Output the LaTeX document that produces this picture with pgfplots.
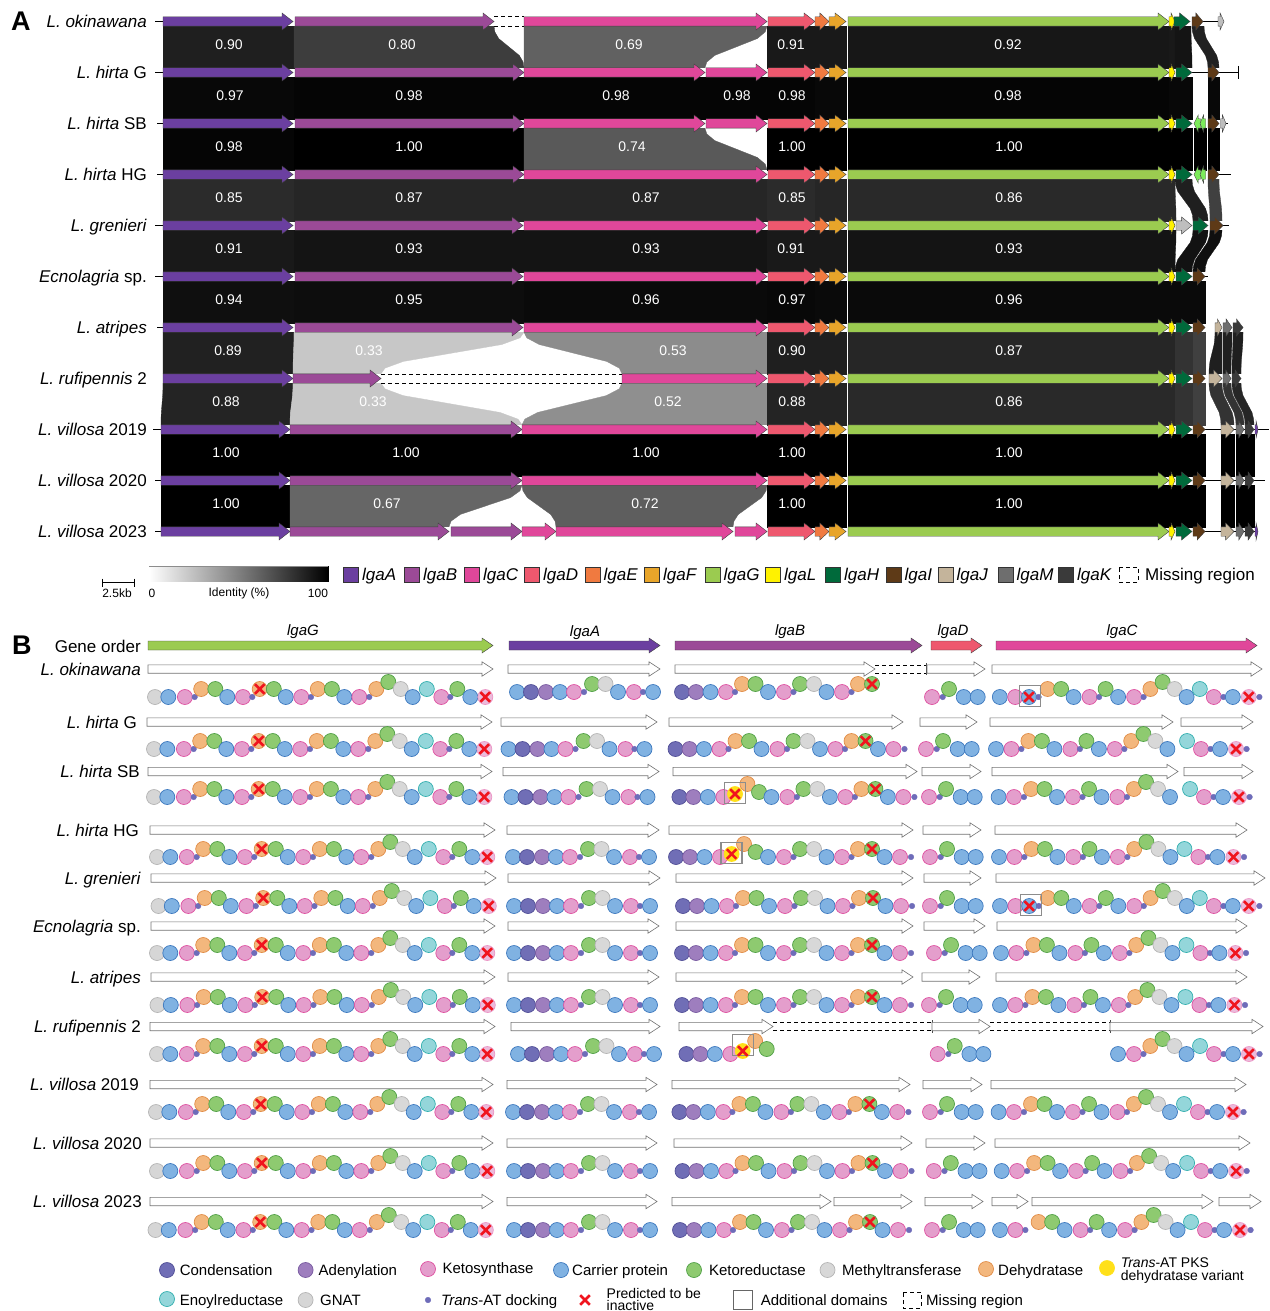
\documentclass[border=0pt]{standalone}
\usepackage{pgfplots}
\pgfplotsset{compat=1.18}
\usepackage{pgfplotstable}
\usepackage{fontspec}
\setmainfont{Liberation Sans}

% gene colours
\definecolor{cA}{RGB}{107,63,160}
\definecolor{cB}{RGB}{155,74,151}
\definecolor{cC}{RGB}{224,71,154}
\definecolor{cD}{RGB}{238,88,110}
\definecolor{cE}{RGB}{240,122,64}
\definecolor{cF}{RGB}{232,165,42}
\definecolor{cG}{RGB}{155,203,80}
\definecolor{cL}{RGB}{255,242,0}
\definecolor{cH}{RGB}{0,106,59}
\definecolor{cI}{RGB}{94,58,23}
\definecolor{cJ}{RGB}{196,180,155}
\definecolor{cM}{RGB}{110,110,110}
\definecolor{cK}{RGB}{58,58,58}
\definecolor{cLG}{RGB}{124,235,90}
\definecolor{cGR}{RGB}{190,190,190}
% domain colours
\definecolor{dCn}{RGB}{112,110,182}\definecolor{dCnb}{RGB}{80,78,150}
\definecolor{dAd}{RGB}{158,126,190}\definecolor{dAdb}{RGB}{120,90,160}
\definecolor{dKS}{RGB}{228,158,204}\definecolor{dKSb}{RGB}{222,80,160}
\definecolor{dCP}{RGB}{128,178,226}\definecolor{dCPb}{RGB}{60,120,190}
\definecolor{dKR}{RGB}{142,202,112}\definecolor{dKRb}{RGB}{80,160,70}
\definecolor{dMT}{RGB}{216,216,216}\definecolor{dMTb}{RGB}{180,180,180}
\definecolor{dDH}{RGB}{243,183,125}\definecolor{dDHb}{RGB}{225,140,70}
\definecolor{dYD}{RGB}{255,224,25}
\definecolor{dER}{RGB}{148,214,218}\definecolor{dERb}{RGB}{50,175,175}
\definecolor{dGN}{RGB}{214,214,214}
\definecolor{dDt}{RGB}{110,108,185}
\definecolor{xred}{RGB}{240,20,30}

\pgfplotsset{
  gn/.style={draw=black!75,line width=0.4pt},
  gA/.style={gn,fill=cA}, gB/.style={gn,fill=cB}, gC/.style={gn,fill=cC},
  gD/.style={gn,fill=cD}, gE/.style={gn,fill=cE}, gF/.style={gn,fill=cF},
  gG/.style={gn,fill=cG}, gL/.style={gn,fill=cL}, gH/.style={gn,fill=cH},
  gI/.style={gn,fill=cI}, gJ/.style={gn,fill=cJ}, gM/.style={gn,fill=cM},
  gK/.style={gn,fill=cK}, gLG/.style={gn,fill=cLG}, gGR/.style={gn,fill=cGR},
  wt/.style={fill=white,draw=black!55,line width=0.6pt},
  dom/.style={scatter,only marks,scatter src=explicit symbolic,
    scatter/classes={
      Cn={mark=*,mark size=7.5,line width=0.7pt,draw=dCnb,fill=dCn},
      Ad={mark=*,mark size=7.5,line width=0.7pt,draw=dAdb,fill=dAd},
      KS={mark=*,mark size=7.5,line width=0.7pt,draw=dKSb,fill=dKS},
      KSi={mark=*,mark size=7.5,line width=0.7pt,draw=dKSb!60,fill=dKS!70},
      CP={mark=*,mark size=7.5,line width=0.7pt,draw=dCPb,fill=dCP},
      KR={mark=*,mark size=7.5,line width=0.7pt,draw=dKRb,fill=dKR},
      MT={mark=*,mark size=7.5,line width=0.7pt,draw=dMTb,fill=dMT},
      DH={mark=*,mark size=7.5,line width=0.7pt,draw=dDHb,fill=dDH},
      YD={mark=*,mark size=7.5,line width=0.7pt,draw=dYD,fill=dYD},
      ER={mark=*,mark size=7.5,line width=0.7pt,draw=dERb,fill=dER},
      GN={mark=*,mark size=7.5,line width=0.7pt,draw=dMTb,fill=dGN},
      dt={mark=*,mark size=2.8,draw=dDt,fill=dDt}}},
}
\tikzset{
  sp/.style={anchor=base east,inner sep=0,font=\fontsize{17}{20}\selectfont},
  num/.style={inner sep=0,text=white,font=\fontsize{14}{16}\selectfont},
  lg/.style={anchor=base west,inner sep=0,font=\fontsize{17}{20}\selectfont},
  lb/.style={anchor=base west,inner sep=0,font=\fontsize{15}{17}\selectfont},
  lc/.style={anchor=base west,inner sep=0,font=\fontsize{14}{15}\selectfont},
  sm/.style={inner sep=0,font=\fontsize{12}{14}\selectfont},
  hd/.style={inner sep=0,font=\fontsize{15}{17}\selectfont\itshape},
}

% arrow: style, y, x start, x end
\newcommand\arr[4]{%
  \pgfmathsetmacro\aL{#4-#3}%
  \pgfmathsetmacro\ahl{\aL>0 ? min(11,0.65*\aL) : max(-11,0.65*\aL)}%
  \pgfmathsetmacro\axh{#4-\ahl}%
  \pgfmathsetmacro\aya{#2-\bh}\pgfmathsetmacro\ayb{#2+\bh}%
  \pgfmathsetmacro\ayc{#2-\hh}\pgfmathsetmacro\ayd{#2+\hh}%
  \edef\mytmp{\noexpand\addplot[#1] coordinates {(#3,\aya)(\axh,\aya)(\axh,\ayc)(#4,#2)(\axh,\ayd)(\axh,\ayb)(#3,\ayb)} -- cycle;}%
  \mytmp}
% link between row i and i+1: i, xa top, xb top, xa bottom, xb bottom, percent black
\newcommand\band[6]{%
  \pgfmathsetmacro\byt{26.2+51*#1}%
  \gdef\bpts{}%
  \foreach \f/\g in {0/0,0.028/0.136,0.156/0.297,0.5/0.5,0.844/0.703,0.972/0.864,1/1}{%
    \pgfmathsetmacro\px{#3+\f*(#5-#3)}\pgfmathsetmacro\py{\byt+\g*41.6}%
    \xdef\bpts{\bpts(\px,\py)}}%
  \foreach \f/\g in {1/1,0.972/0.864,0.844/0.703,0.5/0.5,0.156/0.297,0.028/0.136,0/0}{%
    \pgfmathsetmacro\px{#2+\f*(#4-#2)}\pgfmathsetmacro\py{\byt+\g*41.6}%
    \xdef\bpts{\bpts(\px,\py)}}%
  \edef\mytmp{\noexpand\addplot[fill=black!#6,draw=black!#6,line width=0.3pt] coordinates {\bpts} -- cycle;}%
  \mytmp}
\newcommand\core[1]{\arr{gD}{#1}{768}{815}\arr{gE}{#1}{815}{829}\arr{gF}{#1}{829}{846}\arr{gG}{#1}{848}{1169}\arr{gL}{#1}{1169}{1175}}
\newcommand\dom[4][]{\addplot[dom,#1] table[x expr=\thisrow{x}+#3,y expr=\thisrow{y}+#4,meta=c]{#2};}
\newcommand\lsq[4]{\addplot[only marks,mark=square*,mark size=7.5,mark options={fill=#1,draw=black!80,line width=0.6pt}] coordinates {(#2,574.5)};
  \node[lg] at (#3,580.5) {\textit{#4}};}

% domain layouts (x offset, y offset, domain)
\pgfplotstableread{
x y c
0 0 GN
13.3 0 CP
29.9 0 KS
39.7 0 dt
46.2 -8 DH
60.3 -8 KR
72.3 0 CP
88 0 KS
97.3 0 dt
104.7 -8 DH
118.8 -8 KR
130.8 0 CP
146.3 0 KS
156 0 dt
162.8 -8 DH
176.9 -8 KR
189.3 0 CP
204.3 0 KS
214.3 0 dt
221.3 -8 DH
233.3 -15 KR
245.7 -8 MT
257.7 0 CP
271.8 -8 ER
286.3 0 KS
295.3 0 dt
302.3 -8 KR
315.3 0 CP
330.3 0 KSi
}\TG
\pgfplotstableread{
x y c
0 0 CP
14 0 Cn
29 0 Ad
43 0 CP
57 0 KS
67 0 dt
75 -8 KR
88.5 -8 MT
101 0 CP
117 0 KS
126 0 dt
136 0 CP
}\TA
\pgfplotstableread{
x y c
0 0 Cn
14 0 Ad
28.5 0 CP
44 0 KS
53 0 dt
60 -8 DH
73.5 -8 KR
86 0 CP
102 0 KS
111.5 0 dt
118 -8 KR
132 -8 MT
144.5 0 CP
160 0 KS
169.5 0 dt
176 -8 DH
190 -8 KR
202.5 0 CP
218 0 KS
229 0 dt
}\TB
\pgfplotstableread{
x y c
0 -3 YD
12.4 -13 DH
24 -5 KR
}\TY
\pgfplotstableread{
x y c
0 0 KS
10.7 0 dt
17 -8 KR
31.7 0 CP
45.7 0 CP
}\TD
\pgfplotstableread{
x y c
0 0 CP
15.4 0 KS
25.4 0 dt
}\TCa
\pgfplotstableread{
x y c
0 -8 DH
13.5 -8 KR
26 0 CP
42 0 KS
51.5 0 dt
58 -8 KR
70.5 0 CP
86.5 0 KS
96 0 dt
102.8 -8 DH
115 -15 KR
127 -8 MT
139 0 CP
}\TCb
\pgfplotstableread{
x y c
0 -8 ER
14 0 KS
23.6 0 dt
33 0 CP
49 0 KSi
59.6 0 dt
}\TCc
\pgfplotstableread{
x y c
0 0 CP
9.6 0 dt
}\TX

\begin{document}
\begin{tikzpicture}
\begin{axis}[name=ax,width=1269pt,height=1311pt,scale only axis,
  xmin=0,xmax=1269,ymin=0,ymax=1311,y dir=reverse,hide axis,clip=false,
  unbounded coords=jump,
  colormap={bw}{gray(0cm)=(1); gray(1cm)=(0)},point meta min=149,point meta max=328]

%%%%%%%%%%%%%%%% panel A: links
\band{0}{163}{294}{163}{294}{88}
\band{0}{294}{494}{294}{524}{76}
\band{0}{524}{767}{524}{705}{62}
\band{0}{767}{815}{767}{815}{90}
\band{0}{815}{829}{815}{829}{90}
\band{0}{829}{846}{829}{846}{90}
\band{0}{848}{1169}{848}{1169}{91}
\band{0}{1169}{1175}{1169}{1175}{90}
\band{0}{1175}{1191}{1175}{1192}{92}
\band{0}{1192}{1204}{1208}{1219}{87}
\band{1}{163}{294}{163}{294}{97}
\band{1}{294}{524}{294}{524}{98}
\band{1}{524}{705}{524}{705}{98}
\band{1}{705}{767}{705}{767}{98}
\band{1}{767}{815}{767}{815}{98}
\band{1}{815}{829}{815}{829}{97}
\band{1}{829}{846}{829}{846}{97}
\band{1}{848}{1169}{848}{1169}{98}
\band{1}{1169}{1175}{1169}{1175}{97}
\band{1}{1175}{1192}{1175}{1192}{97}
\band{1}{1208}{1219}{1208}{1219}{97}
\band{2}{163}{294}{163}{294}{98}
\band{2}{294}{524}{294}{524}{100}
\band{2}{524}{705}{524}{767}{65}
\band{2}{767}{815}{767}{815}{100}
\band{2}{815}{829}{815}{829}{100}
\band{2}{829}{846}{829}{846}{100}
\band{2}{848}{1169}{848}{1169}{100}
\band{2}{1169}{1175}{1169}{1175}{100}
\band{2}{1175}{1192}{1175}{1192}{100}
\band{2}{1194}{1206}{1194}{1206}{100}
\band{2}{1208}{1219}{1208}{1219}{100}
\band{3}{163}{294}{163}{294}{83}
\band{3}{294}{524}{294}{524}{85}
\band{3}{524}{767}{524}{767}{85}
\band{3}{767}{815}{767}{815}{83}
\band{3}{815}{829}{815}{829}{85}
\band{3}{829}{846}{829}{846}{85}
\band{3}{848}{1169}{848}{1169}{84}
\band{3}{1169}{1175}{1169}{1176}{84}
\band{3}{1175}{1192}{1193}{1208}{88}
\band{3}{1208}{1219}{1210}{1222}{75}
\band{4}{163}{294}{163}{294}{90}
\band{4}{294}{524}{294}{524}{92}
\band{4}{524}{767}{524}{767}{92}
\band{4}{767}{815}{767}{815}{90}
\band{4}{815}{829}{815}{829}{90}
\band{4}{829}{846}{829}{846}{90}
\band{4}{848}{1169}{848}{1169}{92}
\band{4}{1169}{1176}{1169}{1175}{92}
\band{4}{1193}{1208}{1175}{1192}{93}
\band{4}{1210}{1222}{1193}{1205}{94}
\band{5}{163}{294}{163}{294}{94}
\band{5}{294}{524}{294}{524}{95}
\band{5}{524}{767}{524}{767}{96}
\band{5}{767}{815}{767}{815}{97}
\band{5}{815}{829}{815}{829}{96}
\band{5}{829}{846}{829}{846}{96}
\band{5}{848}{1169}{848}{1169}{96}
\band{5}{1169}{1175}{1169}{1175}{96}
\band{5}{1175}{1192}{1175}{1192}{96}
\band{5}{1193}{1205}{1193}{1205}{96}
\band{6}{163}{294}{163}{293}{87}
\band{6}{294}{524}{293}{381}{22}
\band{6}{524}{767}{622}{767}{45}
\band{6}{767}{815}{767}{815}{88}
\band{6}{815}{829}{815}{829}{88}
\band{6}{829}{846}{829}{846}{88}
\band{6}{848}{1169}{848}{1169}{85}
\band{6}{1169}{1175}{1169}{1175}{85}
\band{6}{1175}{1192}{1175}{1192}{80}
\band{6}{1193}{1205}{1193}{1205}{75}
\band{6}{1215}{1222}{1209}{1222}{88}
\band{6}{1223}{1232}{1223}{1231}{88}
\band{6}{1233}{1243}{1232}{1241}{88}
\band{7}{163}{293}{161}{290}{86}
\band{7}{293}{381}{290}{522}{22}
\band{7}{622}{767}{522}{767}{44}
\band{7}{767}{815}{767}{815}{86}
\band{7}{815}{829}{815}{829}{86}
\band{7}{829}{846}{829}{846}{86}
\band{7}{848}{1169}{848}{1169}{84}
\band{7}{1169}{1175}{1169}{1175}{84}
\band{7}{1175}{1192}{1175}{1192}{80}
\band{7}{1193}{1205}{1193}{1205}{75}
\band{7}{1209}{1222}{1221}{1234}{80}
\band{7}{1223}{1231}{1236}{1244}{80}
\band{7}{1232}{1241}{1245}{1254}{85}
\band{8}{161}{290}{161}{290}{100}
\band{8}{290}{522}{290}{522}{100}
\band{8}{522}{767}{522}{767}{100}
\band{8}{767}{815}{767}{815}{100}
\band{8}{815}{829}{815}{829}{100}
\band{8}{829}{846}{829}{846}{100}
\band{8}{848}{1169}{848}{1169}{100}
\band{8}{1169}{1175}{1169}{1175}{100}
\band{8}{1175}{1192}{1175}{1192}{100}
\band{8}{1193}{1205}{1193}{1205}{100}
\band{8}{1221}{1234}{1221}{1234}{100}
\band{8}{1236}{1244}{1236}{1244}{100}
\band{8}{1245}{1254}{1245}{1254}{100}
\band{9}{161}{290}{161}{290}{100}
\band{9}{290}{522}{290}{449}{60}
\band{9}{522}{767}{556}{733}{63}
\band{9}{767}{815}{767}{815}{100}
\band{9}{815}{829}{815}{829}{100}
\band{9}{829}{846}{829}{846}{100}
\band{9}{848}{1169}{848}{1169}{100}
\band{9}{1169}{1175}{1169}{1175}{100}
\band{9}{1175}{1192}{1175}{1192}{100}
\band{9}{1193}{1205}{1193}{1205}{100}
\band{9}{1221}{1234}{1221}{1234}{100}
\band{9}{1236}{1244}{1236}{1244}{100}
\band{9}{1245}{1254}{1245}{1254}{100}

% thin lines: row ticks and right-hand backbone
\addplot[black,line width=0.6pt] coordinates {
(155,21.5)(163,21.5) (nan,nan) (155,72.5)(163,72.5) (nan,nan) (157,123.5)(163,123.5) (nan,nan)
(157,174.5)(163,174.5) (nan,nan) (155,225.5)(163,225.5) (nan,nan) (155,276.5)(163,276.5) (nan,nan)
(157,327.5)(163,327.5) (nan,nan) (153,429.5)(161,429.5) (nan,nan) (155,480.5)(161,480.5) (nan,nan)
(155,531.5)(161,531.5) (nan,nan)
(1203,21.5)(1219,21.5) (nan,nan) (1192,72.5)(1238,72.5) (nan,nan) (1238,66)(1238,79) (nan,nan)
(1226,123.5)(1228,123.5) (nan,nan)
(1219,174.5)(1231,174.5) (nan,nan) (1222,225.5)(1229,225.5) (nan,nan) (1205,276.5)(1208,276.5) (nan,nan)
(1205,429.5)(1269,429.5) (nan,nan) (1205,480.5)(1265,480.5) (nan,nan) (1205,531.5)(1256,531.5)};
% missing regions (dashed)
\addplot[black,line width=0.6pt,dash pattern=on 4pt off 3pt] coordinates {
(494,16.8)(524,16.8) (nan,nan) (494,26.2)(524,26.2) (nan,nan)
(381,373.8)(622,373.8) (nan,nan) (381,383.2)(622,383.2) (nan,nan)
(1119,567)(1138,567)(1138,582)(1119,582)(1119,567) (nan,nan)
(875,664.8)(926,664.8) (nan,nan) (875,673.2)(926,673.2) (nan,nan)
(773,1022.3)(932,1022.3) (nan,nan) (773,1030.7)(932,1030.7) (nan,nan)
(990,1022.3)(1110,1022.3) (nan,nan) (990,1030.7)(1110,1030.7) (nan,nan)
(903,1292)(921,1292)(921,1308)(903,1308)(903,1292)};
\addplot[black!70,line width=0.6pt] coordinates {(926,663)(926,675) (nan,nan) (932,1020)(932,1033) (nan,nan) (1110,1020)(1110,1033)};

%%%%%%%%%%%%%%%% panel A: genes
\def\bh{4.7}\def\hh{8.5}
\arr{gA}{21.5}{163}{293}\arr{gB}{21.5}{295}{494}\arr{gC}{21.5}{524}{767}\core{21.5}
\arr{gH}{21.5}{1174}{1190}\arr{gI}{21.5}{1192}{1203}\arr{gGR}{21.5}{1218}{1224}
\arr{gA}{72.5}{163}{293}\arr{gB}{72.5}{295}{524}\arr{gC}{72.5}{524}{705}\arr{gC}{72.5}{706}{767}\core{72.5}
\arr{gH}{72.5}{1176}{1192}\arr{gI}{72.5}{1208}{1219}
\arr{gA}{123.5}{163}{293}\arr{gB}{123.5}{295}{524}\arr{gC}{123.5}{524}{705}\arr{gC}{123.5}{706}{767}\core{123.5}
\arr{gH}{123.5}{1176}{1192}\arr{gLG}{123.5}{1200.5}{1194}\arr{gLG}{123.5}{1205.5}{1200}\arr{gI}{123.5}{1208}{1219}\arr{gGR}{123.5}{1220.5}{1226}
\arr{gA}{174.5}{163}{293}\arr{gB}{174.5}{295}{524}\arr{gC}{174.5}{524}{767}\core{174.5}
\arr{gH}{174.5}{1176}{1192}\arr{gLG}{174.5}{1200.5}{1194}\arr{gLG}{174.5}{1205.5}{1200}\arr{gI}{174.5}{1208}{1219}
\arr{gA}{225.5}{163}{293}\arr{gB}{225.5}{295}{523}\arr{gC}{225.5}{524}{767}\core{225.5}
\arr{gGR}{225.5}{1176}{1192}\arr{gH}{225.5}{1193}{1208}\arr{gI}{225.5}{1210}{1223}
\arr{gA}{276.5}{163}{293}\arr{gB}{276.5}{295}{523}\arr{gC}{276.5}{524}{767}\core{276.5}
\arr{gH}{276.5}{1176}{1192}\arr{gI}{276.5}{1193}{1205}
\arr{gA}{327.5}{163}{293}\arr{gB}{327.5}{295}{523}\arr{gC}{327.5}{524}{767}\core{327.5}
\arr{gH}{327.5}{1176}{1192}\arr{gI}{327.5}{1193}{1205}\arr{gJ}{327.5}{1215}{1222}\arr{gM}{327.5}{1223}{1232}\arr{gK}{327.5}{1233}{1243}
\arr{gA}{378.5}{163}{293}\arr{gB}{378.5}{293}{381}\arr{gC}{378.5}{622}{767}\core{378.5}
\arr{gH}{378.5}{1176}{1192}\arr{gI}{378.5}{1193}{1205}\arr{gJ}{378.5}{1209}{1222}\arr{gM}{378.5}{1223}{1231}\arr{gK}{378.5}{1232}{1241}
\arr{gA}{429.5}{161}{290}\arr{gB}{429.5}{290}{522}\arr{gC}{429.5}{522}{767}\core{429.5}
\arr{gH}{429.5}{1176}{1192}\arr{gI}{429.5}{1193}{1205}\arr{gJ}{429.5}{1221}{1234}\arr{gM}{429.5}{1236}{1244}\arr{gK}{429.5}{1245}{1254}\arr{gA}{429.5}{1255}{1258}
\arr{gA}{480.5}{161}{290}\arr{gB}{480.5}{290}{522}\arr{gC}{480.5}{522}{767}\core{480.5}
\arr{gH}{480.5}{1176}{1192}\arr{gI}{480.5}{1193}{1205}\arr{gJ}{480.5}{1221}{1234}\arr{gM}{480.5}{1236}{1244}\arr{gK}{480.5}{1245}{1254}
\arr{gA}{531.5}{161}{290}\arr{gB}{531.5}{290}{449}\arr{gB}{531.5}{451}{522}\arr{gC}{531.5}{522}{556}\arr{gC}{531.5}{556}{733}\arr{gC}{531.5}{735}{767}\core{531.5}
\arr{gH}{531.5}{1176}{1192}\arr{gI}{531.5}{1193}{1205}\arr{gJ}{531.5}{1221}{1234}\arr{gM}{531.5}{1236}{1244}\arr{gK}{531.5}{1245}{1254}\arr{gA}{531.5}{1255}{1258}

% identity values
\node[num] at (229,44.3) {0.90}; \node[num] at (402,44.3) {0.80}; \node[num] at (629,44.3) {0.69}; \node[num] at (791,44.3) {0.91}; \node[num] at (1008,44.3) {0.92};
\node[num] at (230,95.3) {0.97}; \node[num] at (409,95.3) {0.98}; \node[num] at (616,95.3) {0.98}; \node[num] at (737,95.3) {0.98}; \node[num] at (792,95.3) {0.98}; \node[num] at (1008,95.3) {0.98};
\node[num] at (229,146.3) {0.98}; \node[num] at (409,146.3) {1.00}; \node[num] at (632,146.3) {0.74}; \node[num] at (792,146.3) {1.00}; \node[num] at (1009,146.3) {1.00};
\node[num] at (229,197.3) {0.85}; \node[num] at (409,197.3) {0.87}; \node[num] at (646,197.3) {0.87}; \node[num] at (792,197.3) {0.85}; \node[num] at (1009,197.3) {0.86};
\node[num] at (229,248.3) {0.91}; \node[num] at (409,248.3) {0.93}; \node[num] at (646,248.3) {0.93}; \node[num] at (791,248.3) {0.91}; \node[num] at (1009,248.3) {0.93};
\node[num] at (229,299.3) {0.94}; \node[num] at (409,299.3) {0.95}; \node[num] at (646,299.3) {0.96}; \node[num] at (792,299.3) {0.97}; \node[num] at (1009,299.3) {0.96};
\node[num] at (228,350.3) {0.89}; \node[num] at (369,350.3) {0.33}; \node[num] at (673,350.3) {0.53}; \node[num] at (792,350.3) {0.90}; \node[num] at (1009,350.3) {0.87};
\node[num] at (226,401.3) {0.88}; \node[num] at (373,401.3) {0.33}; \node[num] at (668,401.3) {0.52}; \node[num] at (792,401.3) {0.88}; \node[num] at (1009,401.3) {0.86};
\node[num] at (226,452.3) {1.00}; \node[num] at (406,452.3) {1.00}; \node[num] at (646,452.3) {1.00}; \node[num] at (792,452.3) {1.00}; \node[num] at (1009,452.3) {1.00};
\node[num] at (226,503.3) {1.00}; \node[num] at (387,503.3) {0.67}; \node[num] at (645,503.3) {0.72}; \node[num] at (792,503.3) {1.00}; \node[num] at (1009,503.3) {1.00};

% species (panel A)
\node[anchor=base west,inner sep=0,font=\fontsize{27}{30}\selectfont\bfseries] at (11,30.7) {A};
\node[sp] at (147,27.6) {\textit{L. okinawana}};
\node[sp] at (147,78.6) {\textit{L. hirta} G};
\node[sp] at (147,129.6) {\textit{L. hirta} SB};
\node[sp] at (147,180.6) {\textit{L. hirta} HG};
\node[sp] at (147,231.6) {\textit{L. grenieri}};
\node[sp] at (147,282.6) {\textit{Ecnolagria} sp.};
\node[sp] at (147,333.6) {\textit{L. atripes}};
\node[sp] at (147,384.6) {\textit{L. rufipennis} 2};
\node[sp] at (147,435.6) {\textit{L. villosa} 2019};
\node[sp] at (147,486.6) {\textit{L. villosa} 2020};
\node[sp] at (147,537.6) {\textit{L. villosa} 2023};

% scale bar and identity scale
\addplot[black,line width=0.8pt] coordinates {(102,582.5)(134,582.5) (nan,nan) (102,578.5)(102,586.5) (nan,nan) (134,578.5)(134,586.5)};
\node[sm] at (117,593) {2.5kb};
\addplot[surf,shader=interp,mesh/rows=2,point meta=x] coordinates {(149,566)(328,566) (149,581.5)(328,581.5)};
\addplot[black!45,line width=0.6pt] coordinates {(149,566)(328,566)};
\node[sm] at (152,593) {0};
\node[sm] at (239,593) {Identity (\%)};
\node[sm] at (318,593) {100};
% gene legend
\lsq{cA}{351}{362}{lgaA}\lsq{cB}{412}{423}{lgaB}\lsq{cC}{472}{483}{lgaC}\lsq{cD}{532}{543}{lgaD}
\lsq{cE}{592.5}{603.5}{lgaE}\lsq{cF}{652}{663}{lgaF}\lsq{cG}{712.5}{723.5}{lgaG}\lsq{cL}{773}{784}{lgaL}
\lsq{cH}{833}{844}{lgaH}\lsq{cI}{893.5}{904.5}{lgaI}\lsq{cJ}{945.5}{956.5}{lgaJ}\lsq{cM}{1005.5}{1016.5}{lgaM}
\lsq{cK}{1066}{1077}{lgaK}
\node[lg] at (1145,580.5) {Missing region};

%%%%%%%%%%%%%%%% panel B
\node[anchor=base west,inner sep=0,font=\fontsize{27}{30}\selectfont\bfseries] at (12,654.5) {B};
\node[sp] at (141,652) {Gene order};
\def\bh{4.5}\def\hh{7.5}
\arr{gG}{645.5}{148}{493}\arr{gA}{645.5}{509}{660}\arr{gB}{645.5}{675}{922}\arr{gD}{645.5}{931}{982}\arr{gC}{645.5}{996}{1257}
\node[hd] at (303,632) {lgaG}; \node[hd] at (585,633) {lgaA}; \node[hd] at (790,632) {lgaB};
\node[hd] at (953,632) {lgaD}; \node[hd] at (1122,632) {lgaC};

\def\bh{4.2}\def\hh{7.2}
\arr{wt}{669}{148}{493}\arr{wt}{669}{508}{660}\arr{wt}{669}{675}{875}\arr{wt}{669}{927}{985}\arr{wt}{669}{992}{1262}
\arr{wt}{722}{147}{492}\arr{wt}{722}{501}{657}\arr{wt}{722}{669}{903}\arr{wt}{722}{920}{977}\arr{wt}{722}{990}{1173}\arr{wt}{722}{1181}{1253}
\arr{wt}{771.5}{148}{492}\arr{wt}{771.5}{503}{659}\arr{wt}{771.5}{673}{917}\arr{wt}{771.5}{922}{981}\arr{wt}{771.5}{992}{1178}\arr{wt}{771.5}{1184}{1253}
\arr{wt}{830}{150}{495}\arr{wt}{830}{507}{659}\arr{wt}{830}{669}{913}\arr{wt}{830}{923}{981}\arr{wt}{830}{995}{1247}
\arr{wt}{878}{151}{496}\arr{wt}{878}{508}{660}\arr{wt}{878}{676}{913}\arr{wt}{878}{924}{981}\arr{wt}{878}{996}{1265}
\arr{wt}{926}{151}{495}\arr{wt}{926}{508}{659}\arr{wt}{926}{676}{913}\arr{wt}{926}{924}{985}\arr{wt}{926}{997}{1247}
\arr{wt}{977}{151}{495}\arr{wt}{977}{508}{659}\arr{wt}{977}{676}{913}\arr{wt}{977}{922}{980}\arr{wt}{977}{996}{1247}
\arr{wt}{1026.5}{150}{495}\arr{wt}{1026.5}{511}{660}\arr{wt}{1026.5}{679}{773}\arr{wt}{1026.5}{932}{990}\arr{wt}{1026.5}{1110}{1263}
\arr{wt}{1084.5}{150}{493}\arr{wt}{1084.5}{507}{657}\arr{wt}{1084.5}{672}{910}\arr{wt}{1084.5}{923}{982}\arr{wt}{1084.5}{991}{1246}
\arr{wt}{1143}{150}{493}\arr{wt}{1143}{507}{657}\arr{wt}{1143}{674}{912}\arr{wt}{1143}{926}{985}\arr{wt}{1143}{995}{1250}
\arr{wt}{1201.5}{150}{493}\arr{wt}{1201.5}{507}{657}\arr{wt}{1201.5}{672}{831}\arr{wt}{1201.5}{834}{912}\arr{wt}{1201.5}{925}{983}
\arr{wt}{1201.5}{992}{1028}\arr{wt}{1201.5}{1032}{1213}\arr{wt}{1201.5}{1219}{1261}

% species (panel B)
\node[sp] at (141,675) {\textit{L. okinawana}};
\node[sp] at (137,728) {\textit{L. hirta} G};
\node[sp] at (140,777.5) {\textit{L. hirta} SB};
\node[sp] at (139,836) {\textit{L. hirta} HG};
\node[sp] at (141,884) {\textit{L. grenieri}};
\node[sp] at (141,932) {\textit{Ecnolagria} sp.};
\node[sp] at (141,983) {\textit{L. atripes}};
\node[sp] at (141,1032.5) {\textit{L. rufipennis} 2};
\node[sp] at (139,1090.5) {\textit{L. villosa} 2019};
\node[sp] at (142,1149) {\textit{L. villosa} 2020};
\node[sp] at (142,1207.5) {\textit{L. villosa} 2023};

% domains
% L. okinawana
\dom{\TG}{155}{697}\dom{\TA}{517}{692}\dom[skip coords between index={17}{20}]{\TB}{682}{692}\dom{\TD}{932}{697}
\dom[skip coords between index={2}{3}]{\TCa}{999.8}{697}\dom{\TX}{1029}{697}\dom{\TCb}{1047.6}{697}\dom{\TCc}{1199.8}{697}
% L. hirta G
\dom{\TG}{154}{749}\dom{\TA}{508.5}{749}\dom{\TB}{675.5}{749}\dom{\TD}{926}{749}
\dom{\TCa}{996}{749}\dom{\TCb}{1028.4}{749}\dom{\TCc}{1187}{749}
% L. hirta SB
\dom{\TG}{154}{797}\dom{\TA}{511.5}{797}\dom[skip coords between index={4}{20}]{\TB}{679.4}{797}\dom{\TY}{735}{797}
\dom[skip coords between index={0}{7}]{\TB}{685.4}{797}\dom{\TD}{929}{797}
\dom{\TCa}{998.6}{797}\dom{\TCb}{1031}{797}\dom{\TCc}{1190}{797}
% L. hirta HG
\dom{\TG}{157}{857}\dom{\TA}{513}{857}\dom[skip coords between index={4}{20}]{\TB}{676}{857}\dom{\TY}{731.6}{857}
\dom[skip coords between index={0}{7}]{\TB}{682}{857}\dom{\TD}{930}{857}
\dom{\TCa}{999}{857}\dom{\TCb}{1031.4}{857}\dom{\TCc}{1184.4}{857}
% L. grenieri
\dom{\TG}{158.5}{906}\dom{\TA}{514}{906}\dom{\TB}{683}{906}\dom{\TD}{930}{906}
\dom[skip coords between index={2}{3}]{\TCa}{1000}{906}\dom{\TX}{1029.2}{906}\dom{\TCb}{1047.8}{906}\dom{\TCc}{1199.8}{906}
% Ecnolagria sp.
\dom{\TG}{157}{953}\dom{\TA}{514}{953}\dom{\TB}{682}{953}\dom{\TD}{934}{953}
\dom{\TCa}{1001}{953}\dom{\TCb}{1033.4}{953}\dom{\TCc}{1186.4}{953}
% L. atripes
\dom{\TG}{157.5}{1005}\dom{\TA}{514}{1005}\dom{\TB}{682}{1005}\dom{\TD}{929}{1005}
\dom{\TCa}{1000}{1005}\dom{\TCb}{1032.4}{1005}\dom{\TCc}{1185.4}{1005}
% L. rufipennis 2
\dom{\TG}{157}{1054}\dom{\TA}{518}{1054}\dom[skip coords between index={4}{20}]{\TB}{686.4}{1054}\dom{\TY}{742.7}{1054}
\dom{\TD}{937.7}{1054}\dom[skip coords between index={0}{6}]{\TCb}{1047.5}{1054}\dom{\TCc}{1200}{1054}
% L. villosa 2019
\dom{\TG}{156}{1112}\dom{\TA}{513}{1112}\dom{\TB}{679.4}{1112}\dom{\TD}{930}{1112}
\dom{\TCa}{998.6}{1112}\dom{\TCb}{1031}{1112}\dom{\TCc}{1184}{1112}
% L. villosa 2020
\dom{\TG}{157}{1171}\dom{\TA}{514}{1171}\dom{\TB}{682.5}{1171}\dom{\TD}{933.8}{1171}
\dom{\TCa}{1001.7}{1171}\dom{\TCb}{1034.1}{1171}\dom{\TCc}{1187.1}{1171}
% L. villosa 2023
\dom{\TG}{155.5}{1230}\dom{\TA}{514}{1230}\dom{\TB}{680}{1230}\dom{\TD}{932}{1230}
\dom{\TCa}{1000}{1230}\dom{\TCb}{1038.6}{1230}\dom{\TCc}{1191}{1230}

% additional domains (boxes) and inactive domains (crosses)
\addplot[only marks,mark=square,mark size=10.5,mark options={draw=black!45,line width=1.6pt}] coordinates {
(1030,696)(735,793)(731.6,853)(1031,905)(743,1045)};
\addplot[only marks,mark=x,mark size=6.8,mark options={draw=xred,line width=2.6pt}] coordinates {
(259.7,689)(485.3,697)(872,684)(1029,697)(1248.8,697)
(258.7,741)(484.3,749)(865.5,741)(1236,749)
(258.7,789)(484.3,797)(875.4,789)(735,794)(1239,797)
(261.7,849)(487.3,857)(872,849)(731.6,854)(1233.4,857)
(263.2,898)(488.8,906)(873,898)(1029.2,906)(1248.8,906)
(261.7,945)(487.3,953)(872,945)(1235.4,953)
(262.2,997)(487.8,1005)(872,997)(1234.4,1005)
(261.7,1046)(487.3,1054)(742.7,1051)(1249,1054)
(260.7,1104)(486.3,1112)(869.4,1104)(1233,1112)
(261.7,1163)(487.3,1171)(872.5,1163)(1236.1,1171)
(260.2,1222)(485.8,1230)(870,1222)(1240,1230)
(585,1300)};

% domain legend
\addplot[dom] coordinates {(167,1270)[Cn] (305.6,1270)[Ad] (428,1269)[KS] (561,1270)[CP] (694,1270)[KR]
  (827.5,1270)[MT] (986,1269)[DH] (1107,1268)[YD] (167,1299)[ER] (305.6,1300)[GN] (428,1300)[dt]};
\addplot[only marks,mark=square,mark size=9.5,mark options={draw=black!60,line width=0.8pt}] coordinates {(743,1300)};
\node[lb] at (179.6,1275.4) {Condensation};
\node[lb] at (318.5,1275.4) {Adenylation};
\node[lb] at (442.4,1273.4) {Ketosynthase};
\node[lb] at (572,1275.4) {Carrier protein};
\node[lb] at (708.8,1275.4) {Ketoreductase};
\node[lb] at (842,1275.4) {Methyltransferase};
\node[lb] at (998,1275.4) {Dehydratase};
\node[lc] at (1120.6,1267.5) {\textit{Trans}-AT PKS};
\node[lc] at (1120.6,1280) {dehydratase variant};
\node[lb] at (179.6,1305.4) {Enoylreductase};
\node[lb] at (320,1305.4) {GNAT};
\node[lb] at (441,1305.4) {\textit{Trans}-AT docking};
\node[lc] at (606.5,1298.5) {Predicted to be};
\node[lc] at (606.5,1310) {inactive};
\node[lb] at (760.6,1305.4) {Additional domains};
\node[lb] at (926,1305.4) {Missing region};

\end{axis}
\pgfresetboundingbox
\path (ax.south west) rectangle (ax.north east);
\end{tikzpicture}
\end{document}
